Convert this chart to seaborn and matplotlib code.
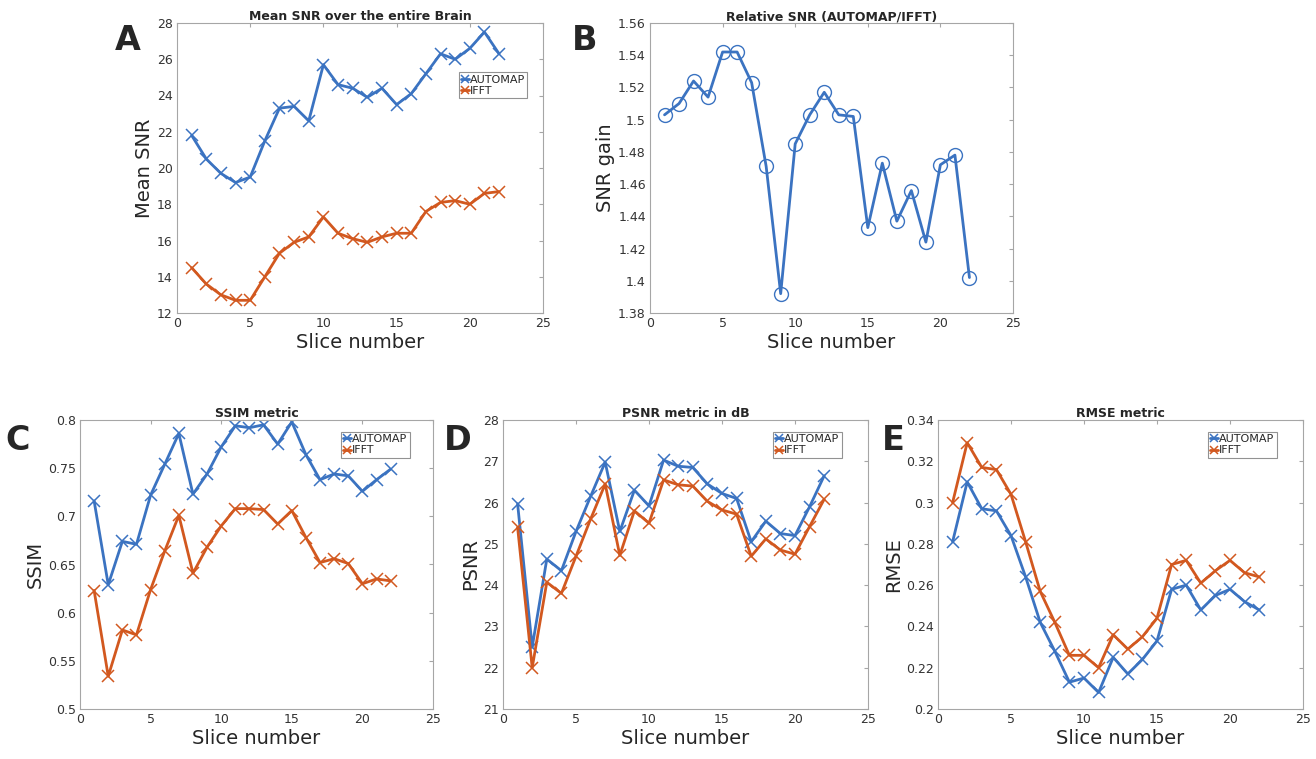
import numpy as np
import pandas as pd
import seaborn as sns
import matplotlib.pyplot as plt
from matplotlib.ticker import FixedLocator

# numero de corte (1..22)
slices = list(range(1, 23))

snr_automap = [21.8, 20.5, 19.7, 19.2, 19.5, 21.5, 23.3, 23.4, 22.6, 25.7, 24.6,
               24.4, 23.9, 24.4, 23.5, 24.1, 25.2, 26.3, 26.0, 26.6, 27.5, 26.3]
snr_ifft = [14.5, 13.6, 13.0, 12.7, 12.7, 14.0, 15.3, 15.9, 16.2, 17.3, 16.4,
            16.1, 15.9, 16.2, 16.4, 16.4, 17.6, 18.1, 18.2, 18.0, 18.6, 18.7]

snr_gain = [1.503, 1.510, 1.524, 1.514, 1.542, 1.542, 1.523, 1.471, 1.392, 1.485, 1.503,
            1.517, 1.503, 1.502, 1.433, 1.473, 1.437, 1.456, 1.424, 1.472, 1.478, 1.402]

ssim_automap = [0.716, 0.629, 0.674, 0.671, 0.722, 0.754, 0.786, 0.723, 0.744, 0.772, 0.794,
                0.792, 0.795, 0.775, 0.798, 0.764, 0.738, 0.744, 0.742, 0.726, 0.738, 0.749]
ssim_ifft = [0.623, 0.534, 0.582, 0.577, 0.624, 0.664, 0.701, 0.641, 0.668, 0.690, 0.708,
             0.708, 0.707, 0.692, 0.706, 0.678, 0.652, 0.656, 0.651, 0.630, 0.635, 0.633]

psnr_automap = [25.97, 22.5, 24.63, 24.35, 25.3, 26.15, 26.98, 25.3, 26.3, 25.92, 27.03,
                26.88, 26.85, 26.45, 26.22, 26.1, 25.05, 25.55, 25.25, 25.2, 25.9, 26.65]
psnr_ifft = [25.4, 22.0, 24.07, 23.8, 24.7, 25.6, 26.45, 24.72, 25.8, 25.5, 26.55,
             26.43, 26.4, 26.03, 25.82, 25.72, 24.7, 25.12, 24.85, 24.75, 25.42, 26.08]

rmse_automap = [0.281, 0.310, 0.297, 0.296, 0.284, 0.264, 0.242, 0.228, 0.213, 0.215, 0.208,
                0.225, 0.217, 0.224, 0.233, 0.258, 0.260, 0.248, 0.255, 0.258, 0.252, 0.248]
rmse_ifft = [0.300, 0.329, 0.317, 0.316, 0.304, 0.281, 0.257, 0.242, 0.226, 0.226, 0.220,
             0.236, 0.229, 0.235, 0.244, 0.270, 0.272, 0.261, 0.267, 0.272, 0.266, 0.264]

methods = ['AUTOMAP', 'IFFT']
BLUE = '#3b73c1'
ORANGE = '#d2581f'
GRAY = '#a6a6a6'

sns.set_theme(style='white')
plt.rcParams['font.family'] = ['DejaVu Sans']


def style_axes(ax, title, ylabel, yticks, yticklabels):
    ax.set_xlim(0, 25)
    ax.set_ylim(yticks[0], yticks[-1])
    ax.xaxis.set_major_locator(FixedLocator([0, 5, 10, 15, 20, 25]))
    ax.set_yticks(yticks)
    ax.set_yticklabels(yticklabels)
    ax.tick_params(direction='in', length=3, width=0.8, color=GRAY,
                   top=True, right=True, labelsize=9, labelcolor='#333333', pad=3)
    for s in ax.spines.values():
        s.set_color(GRAY)
        s.set_linewidth(0.8)
    ax.set_title(title, fontsize=9, fontweight='bold', pad=2)
    ax.set_xlabel('Slice number', fontsize=14, labelpad=2)
    ax.set_ylabel(ylabel, fontsize=14, labelpad=2)


def pair_plot(ax, a, b, loc_anchor):
    for vals, name, col in [(a, methods[0], BLUE), (b, methods[1], ORANGE)]:
        sns.lineplot(x=slices, y=vals, ax=ax, color=col, label=name,
                     marker='x', markersize=8.5, markeredgewidth=1.1,
                     markeredgecolor=col, linewidth=2)
    leg = ax.legend(loc='upper left', bbox_to_anchor=loc_anchor, fontsize=8,
                    handlelength=0.7, handletextpad=0.1, borderpad=0.2,
                    labelspacing=0.15, markerscale=0.75, frameon=True,
                    fancybox=False, borderaxespad=0)
    leg.get_frame().set_edgecolor('#777777')
    leg.get_frame().set_linewidth(0.8)


fig = plt.figure(figsize=(13.16, 7.59), dpi=100)
W, H = 1316, 759


def add_ax(l, r, t, b):
    return fig.add_axes([l / W, 1 - b / H, (r - l) / W, (b - t) / H])


axA = add_ax(177, 543, 23, 313)
axB = add_ax(650, 1013, 23, 313)
axC = add_ax(80, 433, 420, 709)
axD = add_ax(503, 868, 420, 709)
axE = add_ax(938, 1303, 420, 709)

# A
pair_plot(axA, snr_automap, snr_ifft, (0.77, 0.83))
style_axes(axA, 'Mean SNR over the entire Brain', 'Mean SNR',
           [12, 14, 16, 18, 20, 22, 24, 26, 28],
           ['12', '14', '16', '18', '20', '22', '24', '26', '28'])

# B
sns.lineplot(x=slices, y=snr_gain, ax=axB, color=BLUE, linewidth=2,
             marker='o', markersize=10, markerfacecolor='none',
             markeredgecolor=BLUE, markeredgewidth=1.0)
style_axes(axB, 'Relative SNR (AUTOMAP/IFFT)', 'SNR gain',
           [1.38, 1.40, 1.42, 1.44, 1.46, 1.48, 1.50, 1.52, 1.54, 1.56],
           ['1.38', '1.4', '1.42', '1.44', '1.46', '1.48', '1.5', '1.52', '1.54', '1.56'])

# C
pair_plot(axC, ssim_automap, ssim_ifft, (0.74, 0.96))
style_axes(axC, 'SSIM metric', 'SSIM',
           [0.5, 0.55, 0.6, 0.65, 0.7, 0.75, 0.8],
           ['0.5', '0.55', '0.6', '0.65', '0.7', '0.75', '0.8'])

# D
pair_plot(axD, psnr_automap, psnr_ifft, (0.74, 0.96))
style_axes(axD, 'PSNR metric in dB', 'PSNR',
           [21, 22, 23, 24, 25, 26, 27, 28],
           ['21', '22', '23', '24', '25', '26', '27', '28'])

# E
pair_plot(axE, rmse_automap, rmse_ifft, (0.74, 0.96))
style_axes(axE, 'RMSE metric', 'RMSE',
           [0.2, 0.22, 0.24, 0.26, 0.28, 0.3, 0.32, 0.34],
           ['0.2', '0.22', '0.24', '0.26', '0.28', '0.3', '0.32', '0.34'])

# letras de panel
for letter, x, y in [('A', 128, 40), ('B', 585, 40), ('C', 18, 440),
                     ('D', 458, 440), ('E', 893, 440)]:
    fig.text(x / W, 1 - y / H, letter, fontsize=24, fontweight='bold',
             ha='center', va='center')

fig.savefig('out.png', dpi=100, facecolor='white')
